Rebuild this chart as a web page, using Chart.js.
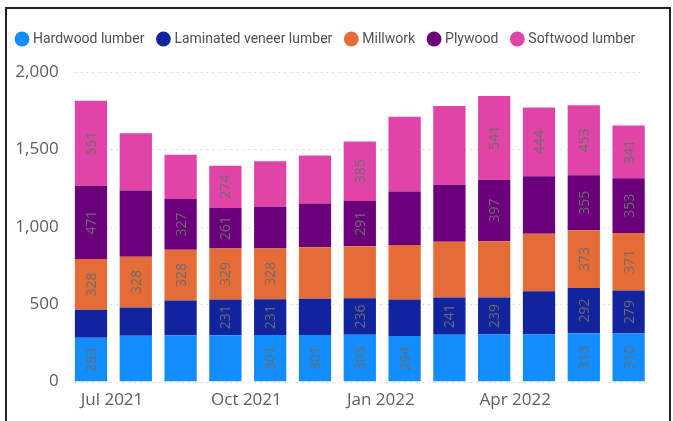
<!DOCTYPE html>
<html>
<head>
<meta charset="utf-8">
<script src="https://cdn.jsdelivr.net/npm/chart.js@4"></script>
<style>
  html, body { margin: 0; padding: 0; background: #fff; overflow: hidden; }
  #wrap { position: relative; width: 673px; height: 421px; }
  #frame { position: absolute; left: 5px; top: 7px; width: 662px; height: 500px; border: 2px solid #222; pointer-events: none; }
</style>
</head>
<body>
<div id="wrap">
  <canvas id="lumberChart" width="673" height="421"></canvas>
  <div id="frame"></div>
</div>
<script>
const months = ['Jul 2021', 'Aug 2021', 'Sep 2021', 'Oct 2021', 'Nov 2021', 'Dec 2021',
                'Jan 2022', 'Feb 2022', 'Mar 2022', 'Apr 2022', 'May 2022', 'Jun 2022', 'Jul 2022'];
const tickLabels = ['Jul 2021', '', '', 'Oct 2021', '', '', 'Jan 2022', '', '', 'Apr 2022', '', '', ''];

const hardwood = [283, 296, 298, 300, 301, 301, 303, 294, 302, 304, 304, 313, 310];
const laminated = [181, 183, 226, 231, 231, 235, 236, 237, 241, 239, 280, 292, 279];
const millwork = [328, 328, 328, 329, 328, 332, 336, 352, 360, 364, 371, 373, 371];
const plywood = [471, 427, 327, 261, 270, 283, 291, 345, 369, 397, 371, 355, 353];
const softwood = [551, 371, 287, 274, 293, 310, 385, 483, 509, 541, 444, 453, 341];

// which data labels the original shows (1 = shown)
const hardwoodShown = [1, 0, 0, 0, 1, 1, 1, 1, 0, 0, 0, 1, 1];
const laminatedShown = [0, 0, 0, 1, 1, 0, 1, 0, 1, 1, 0, 1, 1];
const millworkShown = [1, 1, 1, 1, 1, 0, 0, 0, 0, 0, 0, 1, 1];
const plywoodShown = [1, 0, 1, 1, 0, 0, 1, 0, 0, 1, 0, 1, 1];
const softwoodShown = [1, 0, 0, 1, 0, 0, 1, 0, 0, 1, 1, 1, 1];

const textGray = '#605E5C';

// dotted gridlines spanning the bars
const dottedGrid = {
    id: 'dottedGrid',
    beforeDatasetsDraw(chart) {
        const ctx = chart.ctx;
        const y = chart.scales.y;
        const bars = chart.getDatasetMeta(0).data;
        const left = bars[0].x - bars[0].width / 2;
        const last = bars[bars.length - 1];
        const right = last.x + last.width / 2;
        ctx.save();
        ctx.strokeStyle = '#c8c6c4';
        ctx.lineWidth = 1;
        ctx.setLineDash([1, 5]);
        y.ticks.forEach(t => {
            const py = Math.round(y.getPixelForValue(t.value)) + 0.5;
            ctx.beginPath();
            ctx.moveTo(left, py);
            ctx.lineTo(right, py);
            ctx.stroke();
        });
        ctx.restore();
    }
};

// rotated value labels inside segments
const segmentLabels = {
    id: 'segmentLabels',
    afterDatasetsDraw(chart) {
        const ctx = chart.ctx;
        ctx.save();
        ctx.font = '14px "Open Sans"';
        ctx.fillStyle = '#6c6c6c';
        ctx.textAlign = 'center';
        ctx.textBaseline = 'middle';
        chart.data.datasets.forEach((ds, i) => {
            chart.getDatasetMeta(i).data.forEach((bar, j) => {
                if (!ds.shown[j]) return;
                ctx.save();
                ctx.translate(bar.x, (bar.y + bar.base) / 2);
                ctx.rotate(-Math.PI / 2);
                ctx.fillText(String(ds.data[j]), 0, 1);
                ctx.restore();
            });
        });
        ctx.restore();
    }
};

// extra room under the legend
const legendSpace = {
    id: 'legendSpace',
    beforeInit(chart) {
        const fit = chart.legend.fit;
        chart.legend.fit = function () {
            fit.bind(chart.legend)();
            this.height += 16;
        };
    }
};

function draw() {
    const ctx = document.getElementById('lumberChart').getContext('2d');
    new Chart(ctx, {
        type: 'bar',
        data: {
            labels: months,
            datasets: [
                { label: 'Hardwood lumber', data: hardwood, shown: hardwoodShown, backgroundColor: '#118DFF' },
                { label: 'Laminated veneer lumber', data: laminated, shown: laminatedShown, backgroundColor: '#12239E' },
                { label: 'Millwork', data: millwork, shown: millworkShown, backgroundColor: '#E66C37' },
                { label: 'Plywood', data: plywood, shown: plywoodShown, backgroundColor: '#6B007B' },
                { label: 'Softwood lumber', data: softwood, shown: softwoodShown, backgroundColor: '#E044A7' }
            ]
        },
        options: {
            responsive: false,
            animation: false,
            categoryPercentage: 1,
            barPercentage: 0.72,
            layout: {
                padding: { left: 3, right: 22, top: 17, bottom: 3 }
            },
            plugins: {
                legend: {
                    position: 'top',
                    align: 'start',
                    labels: {
                        usePointStyle: true,
                        pointStyle: 'circle',
                        boxWidth: 8,
                        boxHeight: 10.5,
                        padding: 15,
                        color: '#505050',
                        font: { family: 'Roboto', size: 14 }
                    }
                },
                tooltip: { enabled: false }
            },
            scales: {
                x: {
                    stacked: true,
                    grid: { display: false, drawTicks: false },
                    border: { display: false },
                    ticks: {
                        autoSkip: false,
                        maxRotation: 0,
                        padding: 8,
                        labelOffset: 21,
                        color: textGray,
                        font: { family: 'Open Sans', size: 17 },
                        callback: (v, i) => tickLabels[i]
                    }
                },
                y: {
                    stacked: true,
                    min: 0,
                    max: 2000,
                    grid: { display: false, drawTicks: false },
                    border: { display: false },
                    afterFit(scale) { scale.width = 65.6; },
                    ticks: {
                        stepSize: 500,
                        padding: 10,
                        color: textGray,
                        font: { family: 'Open Sans', size: 17 },
                        callback: v => v.toLocaleString('en-US')
                    }
                }
            }
        },
        plugins: [dottedGrid, segmentLabels, legendSpace]
    });
}

Promise.all([
    document.fonts.load('17px "Open Sans"'),
    document.fonts.load('14px "Open Sans"'),
    document.fonts.load('14px Roboto')
]).then(draw, draw);
</script>
</body>
</html>
